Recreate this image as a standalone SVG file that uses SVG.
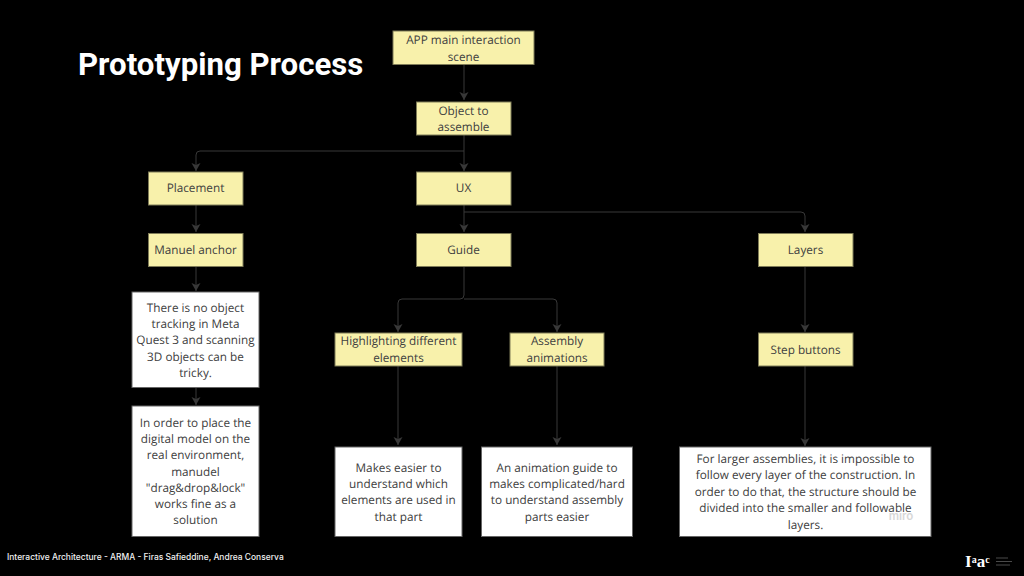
<svg xmlns="http://www.w3.org/2000/svg" width="1024" height="576" viewBox="0 0 1024 576">
<defs>
<marker id="ah" markerUnits="userSpaceOnUse" markerWidth="10" markerHeight="10" refX="8" refY="5" orient="auto"><path d="M0 0.500L8 5L0 9.500L2 5Z" fill="#383838"/></marker>
</defs>
<style>
.y{fill:#f8f1ab;stroke:#7f7c58;stroke-width:1}
.w{fill:#fff;stroke:#666;stroke-width:1}
.t{font-family:"Open Sans","Noto Sans",sans-serif;font-size:11.750px;fill:#404040;text-anchor:middle;text-rendering:geometricPrecision;transform:translateY(-.3px)}
.c{fill:none;stroke:#383838;stroke-width:1;marker-end:url(#ah)}
</style>
<rect width="1024" height="576" fill="#000"/>
<text x="78" y="75" font-family="Roboto,sans-serif" font-weight="700" font-size="31.200" fill="#fff">Prototyping Process</text>
<text x="7" y="560" font-family="Inter,Roboto,sans-serif" font-weight="500" font-size="8.450" fill="#f0f0f0">Interactive Architecture - ARMA - Firas Safieddine, Andrea Conserva</text>
<g id="connectors">
<path class="c" d="M464 65V100"/>
<path class="c" d="M464 135V171"/>
<path class="c" d="M464 151H200Q196 151 196 155V171"/>
<path class="c" d="M196 205V232"/>
<path class="c" d="M196 267V291"/>
<path class="c" d="M196 388V405"/>
<path class="c" d="M464 205V232"/>
<path class="c" d="M464 212H801Q805 212 805 216V232"/>
<path class="c" d="M464 267V295Q464 299 460 299H402Q398 299 398 303V332"/>
<path class="c" d="M464 299H553Q557 299 557 303V332"/>
<path class="c" d="M398 366V445"/>
<path class="c" d="M557 366V445"/>
<path class="c" d="M805 267V332"/>
<path class="c" d="M805 366V446"/>
</g>
<g id="n-app"><rect class="y" x="393" y="31" width="141" height="33.500"/><text class="t" x="463.500" y="44">APP main interaction</text><text class="t" x="463.500" y="61">scene</text></g>
<g id="n-object"><rect class="y" x="416.500" y="102" width="94.500" height="33"/><text class="t" x="463.500" y="115">Object to</text><text class="t" x="463.500" y="131">assemble</text></g>
<g id="n-placement"><rect class="y" x="148.500" y="172" width="94.500" height="33"/><text class="t" x="195.500" y="192.500">Placement</text></g>
<g id="n-ux"><rect class="y" x="416.500" y="172" width="94.500" height="33"/><text class="t" x="463.500" y="192.500">UX</text></g>
<g id="n-anchor"><rect class="y" x="148.500" y="233.500" width="94.500" height="33"/><text class="t" x="195.500" y="254">Manuel anchor</text></g>
<g id="n-guide"><rect class="y" x="416.500" y="233.500" width="94.500" height="33"/><text class="t" x="463.500" y="254">Guide</text></g>
<g id="n-layers"><rect class="y" x="758.500" y="233.500" width="94.500" height="33"/><text class="t" x="805.500" y="254">Layers</text></g>
<g id="n-highlight"><rect class="y" x="335" y="333" width="127" height="33"/><text class="t" x="398.500" y="345.500">Highlighting different</text><text class="t" x="398.500" y="362">elements</text></g>
<g id="n-animations"><rect class="y" x="510" y="333" width="94" height="33"/><text class="t" x="557" y="345.500">Assembly</text><text class="t" x="557" y="362">animations</text></g>
<g id="n-step"><rect class="y" x="758.500" y="333" width="94.500" height="33"/><text class="t" x="805.500" y="354">Step buttons</text></g>
<g id="n-tracking"><rect class="w" x="132" y="292" width="127" height="95.500"/><text class="t" x="195.500" y="312">There is no object</text><text class="t" x="195.500" y="328">tracking in Meta</text><text class="t" x="195.500" y="344.500">Quest 3 and scanning</text><text class="t" x="195.500" y="361">3D objects can be</text><text class="t" x="195.500" y="377">tricky.</text></g>
<g id="n-place"><rect class="w" x="132" y="406" width="127" height="130.500"/><text class="t" x="195.500" y="427">In order to place the</text><text class="t" x="195.500" y="443">digital model on the</text><text class="t" x="195.500" y="459.500">real environment,</text><text class="t" x="195.500" y="476">manudel</text><text class="t" x="195.500" y="492">"drag&amp;drop&amp;lock"</text><text class="t" x="195.500" y="508">works fine as a</text><text class="t" x="195.500" y="524.500">solution</text></g>
<g id="n-easier"><rect class="w" x="335" y="447" width="127" height="89.500"/><text class="t" x="398.500" y="472">Makes easier to</text><text class="t" x="398.500" y="488">understand which</text><text class="t" x="398.500" y="504.500">elements are used in</text><text class="t" x="398.500" y="521">that part</text></g>
<g id="n-guideanim"><rect class="w" x="481.500" y="447" width="151" height="89.500"/><text class="t" x="557" y="472">An animation guide to</text><text class="t" x="557" y="488">makes complicated/hard</text><text class="t" x="557" y="504.500">to understand assembly</text><text class="t" x="557" y="521">parts easier</text></g>
<g id="n-larger"><rect class="w" x="679.500" y="447" width="251.500" height="89.500"/><text class="t" x="805.500" y="463">For larger assemblies, it is impossible to</text><text class="t" x="805.500" y="479">follow every layer of the construction. In</text><text class="t" x="805.500" y="496">order to do that, the structure should be</text><text class="t" x="805.500" y="512">divided into the smaller and followable</text><text class="t" x="805.500" y="529">layers.</text></g>
<text x="901" y="520" font-family="Inter,Roboto,sans-serif" font-weight="600" font-size="11.500" fill="#d8d8d8" text-anchor="middle">miro</text>
<g id="logo"><text x="965" y="567" font-family="Liberation Serif,serif" font-weight="700" font-size="17" fill="#fff">I<tspan font-size="10" dy="-4">a</tspan><tspan dy="4">a</tspan><tspan font-size="10" dy="-4">c</tspan></text>
<path d="M996 558H1008M996 561.500H1012M996 565H1010" stroke="#4a4a4a" stroke-width="1" fill="none"/></g>
</svg>
